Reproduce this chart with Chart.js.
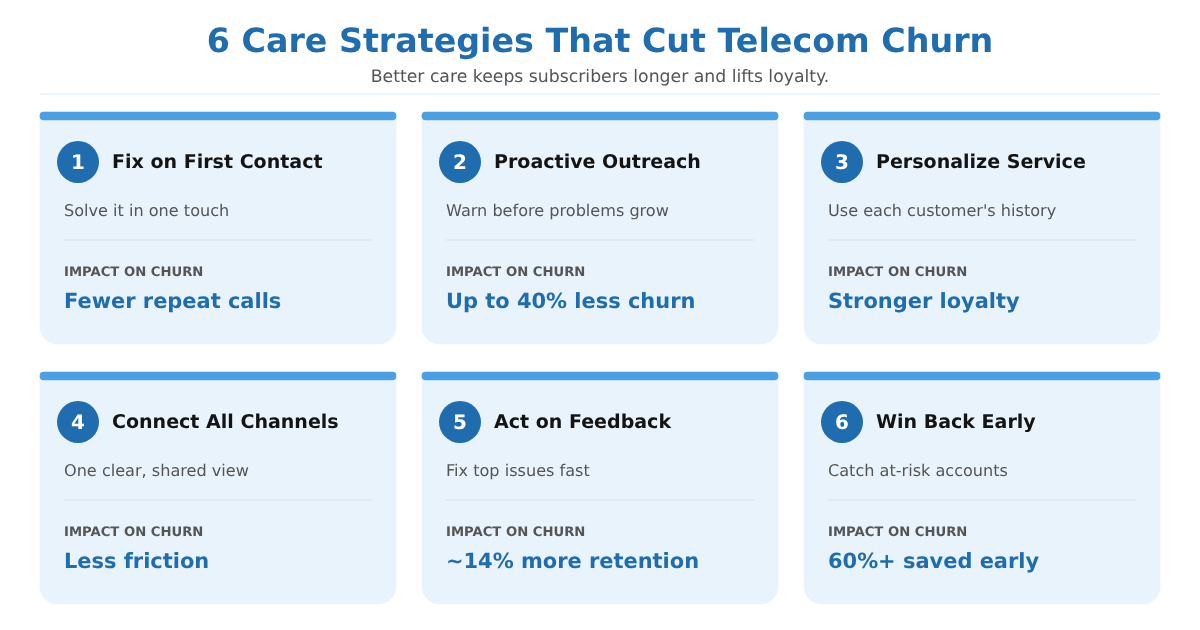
<!DOCTYPE html>
<html>
<head>
<meta charset="utf-8">
<title>6 Care Strategies That Cut Telecom Churn</title>
<script src="https://cdn.jsdelivr.net/npm/chart.js@4"></script>
<style>
  html, body { margin: 0; padding: 0; background: #fff; }
  canvas { display: block; }
</style>
</head>
<body>
<canvas id="chart" width="1200" height="630"></canvas>
<script>
const chartTitle = "6 Care Strategies That Cut Telecom Churn";
const chartSubtitle = "Better care keeps subscribers longer and lifts loyalty.";
const impactHeading = "IMPACT ON CHURN";

const stepNumbers = ["1", "2", "3", "4", "5", "6"];
const strategies = ["Fix on First Contact", "Proactive Outreach", "Personalize Service", "Connect All Channels", "Act on Feedback", "Win Back Early"];
const notes = ["Solve it in one touch", "Warn before problems grow", "Use each customer's history", "One clear, shared view", "Fix top issues fast", "Catch at-risk accounts"];
const impacts = ["Fewer repeat calls", "Up to 40% less churn", "Stronger loyalty", "Less friction", "~14% more retention", "60%+ saved early"];

const columns = ["left", "middle", "right"];
const FONT = '"DejaVu Sans", sans-serif';

// grid of the cards, in canvas pixels
const cardW = 356, cardH = 232, stepX = 382, stepY = 260, firstX = 40, firstY = 112, stripH = 8;
const cardX = i => firstX + (i % 3) * stepX;
const cardY = i => firstY + Math.floor(i / 3) * stepY;

// one bar per column, one dataset per row
const rowBars = (row, from, to) => columns.map(() => [firstY + row * stepY + from, firstY + row * stepY + to]);

const datasets = [];
[0, 1].forEach(row => {
    datasets.push({
        type: 'bar', data: rowBars(row, 0, stripH), backgroundColor: '#4aa0e2',
        barThickness: cardW, grouped: false, borderSkipped: false, borderRadius: 4, order: 2
    });
    datasets.push({
        type: 'bar', data: rowBars(row, 0, cardH), backgroundColor: '#e8f3fc',
        barThickness: cardW, grouped: false, borderSkipped: false,
        borderRadius: { topLeft: 0, topRight: 0, bottomLeft: 18, bottomRight: 18 }, order: 4
    });
});

datasets.push({
    type: 'scatter', xAxisID: 'xPx',
    data: stepNumbers.map((n, i) => ({ x: cardX(i) + 38, y: cardY(i) + 50 })),
    backgroundColor: '#1f6cae', borderWidth: 0, pointRadius: 21, pointHoverRadius: 21, order: 1
});

// divider in each card, plus the rule under the header
stepNumbers.forEach((n, i) => {
    datasets.push({
        type: 'line', xAxisID: 'xPx',
        data: [{ x: cardX(i) + 24, y: cardY(i) + 128 }, { x: cardX(i) + 332, y: cardY(i) + 128 }],
        borderColor: '#dce7f0', borderWidth: 1.5, pointRadius: 0, order: 3
    });
});
datasets.push({
    type: 'line', xAxisID: 'xPx',
    data: [{ x: 40, y: 94 }, { x: 1160, y: 94 }],
    borderColor: '#e8f3fc', borderWidth: 1.5, pointRadius: 0, order: 3
});

const cardText = {
    id: 'cardText',
    afterDatasetsDraw(chart) {
        const ctx = chart.ctx;
        const put = (text, x, y, font, color, align) => {
            ctx.font = font + ' ' + FONT;
            ctx.fillStyle = color;
            ctx.textAlign = align || 'left';
            ctx.textBaseline = 'alphabetic';
            ctx.fillText(text, x, y);
        };
        ctx.save();
        ctx.textRendering = 'geometricPrecision';
        put(chartTitle, 600, 52, 'bold 33.3px', '#1f6cae', 'center');
        put(chartSubtitle, 600, 82, '17.27px', '#555555', 'center');
        stepNumbers.forEach((n, i) => {
            const x = cardX(i), y = cardY(i);
            put(n, x + 38, y + 57, 'bold 20px', '#ffffff', 'center');
            put(strategies[i], x + 72, y + 56, 'bold 19.05px', '#141414');
            put(notes[i], x + 24, y + 104, '16.1px', '#555555');
            put(impactHeading, x + 24, y + 164, 'bold 13.2px', '#555555');
            put(impacts[i], x + 24, y + 196, 'bold 20.95px', '#1f6cae');
        });
        ctx.restore();
    }
};

new Chart(document.getElementById('chart'), {
    data: { labels: columns, datasets },
    plugins: [cardText],
    options: {
        responsive: false,
        animation: false,
        events: [],
        layout: { autoPadding: false, padding: { left: 27, right: 27, top: 0, bottom: 0 } },
        plugins: { legend: { display: false }, tooltip: { enabled: false }, title: { display: false } },
        scales: {
            x: { display: false, type: 'category' },
            xPx: { display: false, type: 'linear', min: 27, max: 1173 },
            y: { display: false, type: 'linear', min: 0, max: 630, reverse: true }
        }
    }
});
</script>
</body>
</html>
